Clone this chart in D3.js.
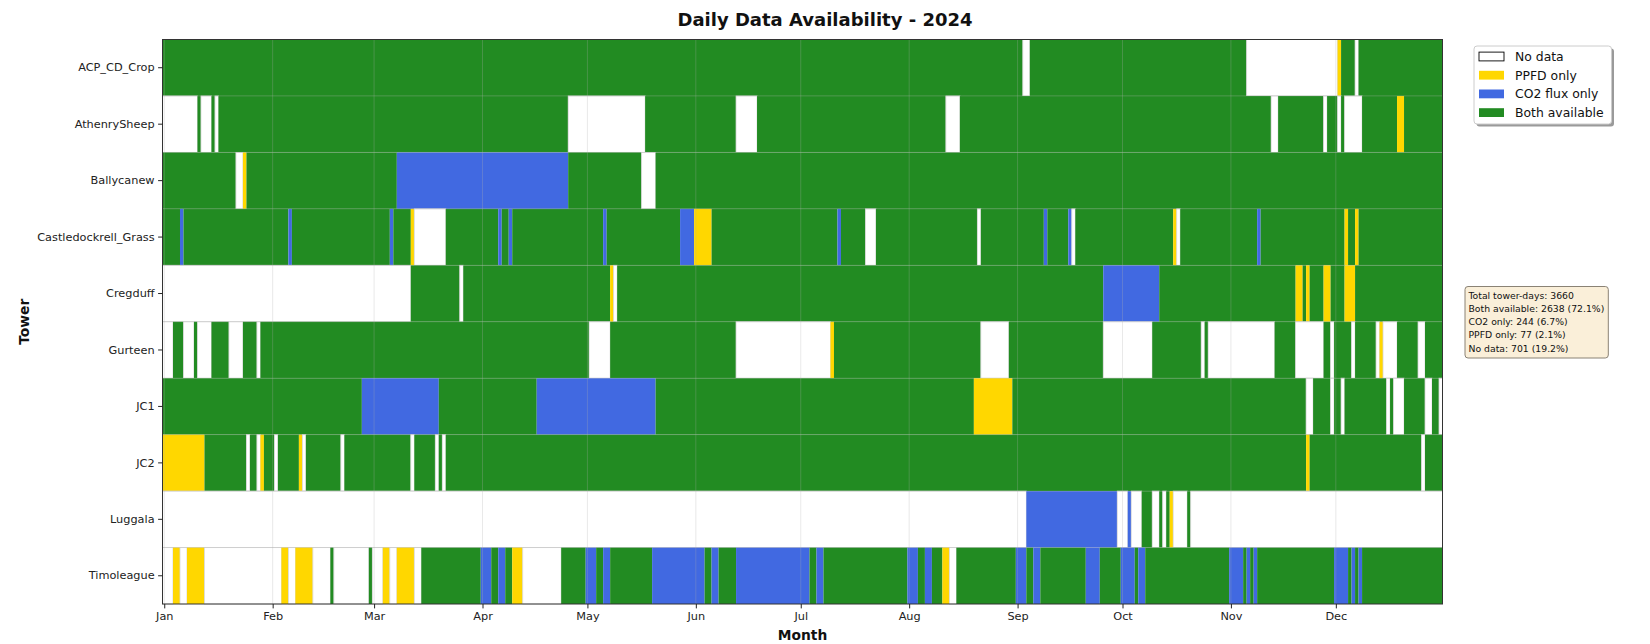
<!DOCTYPE html>
<html>
<head>
<meta charset="utf-8">
<script src="https://cdn.jsdelivr.net/npm/d3@7"></script>
<style>
  html, body { margin: 0; padding: 0; background: #ffffff; }
  svg { display: block; font-family: "DejaVu Sans", sans-serif; }
</style>
</head>
<body>
<svg id="chart" width="1650" height="644"></svg>
<script>
// ---------------- data ----------------
const towers = ["ACP_CD_Crop", "AthenrySheep", "Ballycanew", "Castledockrell_Grass", "Cregduff",
                "Gurteen", "JC1", "JC2", "Luggala", "Timoleague"];
const monthLabels = ["Jan","Feb","Mar","Apr","May","Jun","Jul","Aug","Sep","Oct","Nov","Dec"];
const year = 2024;
const nDays = 366;
// status codes: 0 = No data, 1 = PPFD only, 2 = CO2 flux only, 3 = Both available
const categories = ["No data", "PPFD only", "CO2 flux only", "Both available"];
const defaultStatus = 3;
// runs that are not "Both available": [startDay, endDay (exclusive), status], day 0 = 1 Jan
const acpCdCropRuns = [[246,248,0],[310,336,0],[336,337,1],[341,342,0]];
const athenrySheepRuns = [[0,10,0],[11,14,0],[15,16,0],[116,138,0],[164,170,0],[224,228,0],[317,319,0],
  [332,333,0],[336,337,0],[338,343,0],[353,355,1]];
const ballycanewRuns = [[21,23,0],[23,24,1],[67,116,2],[137,141,0]];
const castledockrellRuns = [[5,6,2],[36,37,2],[65,66,2],[71,72,1],[72,81,0],[96,97,2],[99,100,2],[126,127,2],
  [148,152,2],[152,157,1],[193,194,2],[201,204,0],[233,234,0],[252,253,2],[259,260,2],[260,261,0],
  [289,290,1],[290,291,0],[313,314,2],[338,339,1],[341,342,1]];
const cregduffRuns = [[0,71,0],[85,86,0],[128,129,1],[129,130,0],[269,285,2],[324,326,1],[327,328,1],
  [332,334,1],[338,341,1]];
const gurteenRuns = [[0,3,0],[6,9,0],[10,14,0],[19,23,0],[27,28,0],[122,128,0],[164,191,0],[191,192,1],
  [234,242,0],[269,283,0],[297,298,0],[299,318,0],[324,332,0],[334,335,0],[340,341,0],[347,348,0],
  [348,349,1],[349,353,0],[359,361,0]];
const jc1Runs = [[57,79,2],[107,141,2],[232,243,1],[327,329,0],[334,335,0],[337,338,0],[350,351,0],
  [352,355,0],[361,363,0],[365,366,0]];
const jc2Runs = [[0,12,1],[24,25,0],[27,28,0],[28,29,1],[32,33,0],[39,40,1],[40,41,0],[51,52,0],[71,72,0],
  [78,79,0],[80,81,0],[327,328,1],[360,361,0]];
const luggalaRuns = [[0,247,0],[247,273,2],[273,276,0],[276,277,2],[277,280,0],[283,285,0],[286,287,0],
  [288,289,1],[289,293,0],[294,366,0]];
const timoleagueRuns = [[0,3,0],[3,5,1],[5,7,0],[7,12,1],[12,34,0],[34,36,1],[36,38,0],[38,43,1],[43,48,0],
  [49,59,0],[60,63,0],[63,65,1],[65,67,0],[67,72,1],[72,74,0],[91,94,2],[96,98,2],[100,103,1],[103,114,0],
  [121,124,2],[126,128,2],[140,155,2],[157,159,2],[164,185,2],[187,189,2],[213,216,2],[218,220,2],
  [223,225,1],[225,227,0],[244,247,2],[249,251,2],[264,268,2],[274,278,2],[279,281,2],[305,309,2],
  [310,311,2],[312,313,2],[335,339,2],[340,341,2],[342,343,2]];
const towerRuns = [acpCdCropRuns, athenrySheepRuns, ballycanewRuns, castledockrellRuns, cregduffRuns,
                   gurteenRuns, jc1Runs, jc2Runs, luggalaRuns, timoleagueRuns];

// ---------------- styles ----------------
const colors = ["#ffffff", "#FFD700", "#4169E1", "#228B22"];
const L = 162.5, R = 1442.5, T = 39.5, B = 604;

// expand to daily matrix
const daily = towers.map((t, ti) => {
  const arr = new Array(nDays).fill(defaultStatus);
  towerRuns[ti].forEach(([s, e, c]) => { for (let d = s; d < e; d++) arr[d] = c; });
  return arr;
});
// merge consecutive days into drawing runs
const cells = [];
daily.forEach((arr, ti) => {
  let s = 0;
  for (let d = 1; d <= nDays; d++) {
    if (d === nDays || arr[d] !== arr[s]) {
      cells.push({ tower: towers[ti], start: s, end: d, status: arr[s] });
      s = d;
    }
  }
});

const dayDate = d => new Date(Date.UTC(year, 0, 1 + d));
const halfDay = 12 * 3600 * 1000;
const x = d3.scaleUtc()
  .domain([new Date(dayDate(0) - halfDay), new Date(+dayDate(nDays - 1) + halfDay)])
  .range([L, R]);
const y = d3.scaleBand().domain(towers).range([T, B]).padding(0);

const svg = d3.select("#chart");

// cells
svg.append("g").selectAll("rect").data(cells).join("rect")
  .attr("x", d => x(new Date(dayDate(d.start) - halfDay)))
  .attr("width", d => x(new Date(dayDate(d.end) - halfDay)) - x(new Date(dayDate(d.start) - halfDay)))
  .attr("y", d => y(d.tower))
  .attr("height", y.bandwidth())
  .attr("fill", d => colors[d.status])
  .attr("stroke", d => d.status === 0 ? "#d6d6d6" : "none")
  .attr("stroke-width", 0.8);

// grid
const monthDates = monthLabels.map((m, i) => new Date(Date.UTC(year, i, 1)));
const grid = svg.append("g").attr("stroke", "#b0b0b0").attr("stroke-opacity", 0.35).attr("stroke-width", 0.8);
grid.selectAll("line.v").data(monthDates).join("line").attr("class", "v")
  .attr("x1", d => x(d)).attr("x2", d => x(d)).attr("y1", T).attr("y2", B);
grid.selectAll("line.h").data(towers.slice(1)).join("line").attr("class", "h")
  .attr("x1", L).attr("x2", R).attr("y1", d => y(d)).attr("y2", d => y(d));

// frame
svg.append("rect").attr("x", L).attr("y", T).attr("width", R - L).attr("height", B - T)
  .attr("fill", "none").attr("stroke", "#333").attr("stroke-width", 1);

// axes
const xAxis = svg.append("g").attr("transform", `translate(0,${B})`)
  .call(d3.axisBottom(x).tickValues(monthDates).tickFormat((d, i) => monthLabels[i]).tickSize(4.4).tickPadding(3.5));
const yAxis = svg.append("g").attr("transform", `translate(${L},0)`)
  .call(d3.axisLeft(y).tickSize(4.4).tickPadding(3.5));
[xAxis, yAxis].forEach(g => {
  g.select(".domain").remove();
  g.selectAll(".tick line").attr("stroke", "#222").attr("stroke-width", 1);
  g.selectAll(".tick text").attr("fill", "#222").style("font-size", "11.3px").style("font-family", "DejaVu Sans");
});

// titles
svg.append("text").attr("x", 825).attr("y", 25.5).attr("text-anchor", "middle")
  .style("font-size", "18px").style("font-weight", "bold").attr("fill", "#111")
  .text("Daily Data Availability - " + year);
svg.append("text").attr("x", (L + R) / 2).attr("y", 639.5).attr("text-anchor", "middle")
  .style("font-size", "13.8px").style("font-weight", "bold").attr("fill", "#111").text("Month");
svg.append("text").attr("transform", `translate(29,${(T + B) / 2}) rotate(-90)`).attr("text-anchor", "middle")
  .style("font-size", "13.8px").style("font-weight", "bold").attr("fill", "#111").text("Tower");

// legend
const lg = svg.append("g").attr("transform", "translate(1474,46)");
lg.append("rect").attr("x", 2.5).attr("y", 2.5).attr("width", 137.5).attr("height", 78).attr("rx", 3)
  .attr("fill", "#9a9a9a");
lg.append("rect").attr("width", 137.5).attr("height", 78).attr("rx", 3)
  .attr("fill", "#fff").attr("stroke", "#cccccc").attr("stroke-width", 1);
categories.forEach((c, i) => {
  const cy = 10.5 + i * 18.7;
  lg.append("rect").attr("x", 5).attr("y", cy - 4.4).attr("width", 25).attr("height", 8.8)
    .attr("fill", colors[i]).attr("stroke", i === 0 ? "#000" : "none").attr("stroke-width", 0.9);
  lg.append("text").attr("x", 41).attr("y", cy).attr("dominant-baseline", "central")
    .style("font-size", "12.4px").attr("fill", "#111").text(c);
});

// stats box
const counts = [0, 0, 0, 0];
daily.forEach(arr => arr.forEach(v => counts[v]++));
const total = towers.length * nDays;
const pct = v => (v / total * 100).toFixed(1);
const statsLines = [
  `Total tower-days: ${total}`,
  `Both available: ${counts[3]} (${pct(counts[3])}%)`,
  `CO2 only: ${counts[2]} (${pct(counts[2])}%)`,
  `PPFD only: ${counts[1]} (${pct(counts[1])}%)`,
  `No data: ${counts[0]} (${pct(counts[0])}%)`
];
const sb = svg.append("g");
const sbRect = sb.append("rect").attr("x", 1465).attr("y", 286.5).attr("height", 71.5).attr("rx", 3)
  .attr("fill", "#FAEFD9").attr("stroke", "#8a8275").attr("stroke-width", 1);
const sTexts = statsLines.map((t, i) =>
  sb.append("text").attr("x", 1468.5).attr("y", 295 + i * 13.3).attr("dominant-baseline", "central")
    .style("font-size", "10px").attr("fill", "#111").text(t));
// fit the longest line to the reference text width (~136 px)
const maxW = d3.max(sTexts, t => t.node().getComputedTextLength()) || 136;
const fs = Math.max(8, Math.min(12, 10 * 136 / maxW));
sTexts.forEach(t => t.style("font-size", fs + "px"));
const maxW2 = d3.max(sTexts, t => t.node().getComputedTextLength()) || 136;
sbRect.attr("width", maxW2 + 7.5);
</script>
</body>
</html>
